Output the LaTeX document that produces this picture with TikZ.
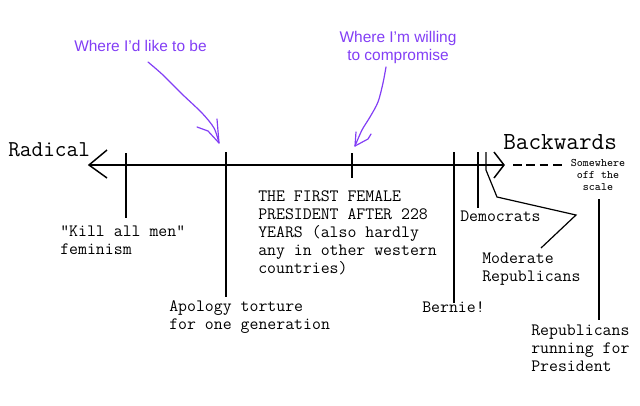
\documentclass[tikz,border=0pt]{standalone}
\usepackage{fontspec}
\setmainfont{Liberation Sans}

\definecolor{pen}{RGB}{130,62,245}

\tikzset{
	tag/.style={font=\ttfamily\fontsize{13}{13.5}\selectfont, align=left, anchor=base west, inner sep=0pt},
	note/.style={font=\fontsize{11.6}{13.5}\selectfont, text=pen, inner sep=0pt},
	scaletick/.style={line width=0.9pt},
	scribble/.style={pen, line width=0.9pt, line cap=round, line join=round}
}

\begin{document}
\begin{tikzpicture}[x=0.75pt, y=-0.75pt]
		\useasboundingbox (0,0) rectangle (640,405);

		\coordinate (left) at (89,165);
		\coordinate (right) at (504,165);

		% draw the scale
		\draw [line width=1.1pt] (left) -- (right);
		\draw [line width=1.1pt] (left) ++(18,-15) -- (left) -- ++(18,13);
		\draw [line width=1.1pt] (right) ++(-10,-13) -- (right) -- ++(-10,13);
		\draw [line width=0.9pt, dash pattern=on 6.5pt off 3.5pt] (right) ++(9,0) -- ++(50,0);

		% ends of the scale
		\node [font=\ttfamily\fontsize{17}{18}\selectfont, anchor=base west, inner sep=0pt] (radical) at (8,156) {Radical};
		\node [font=\ttfamily\fontsize{18.4}{20}\selectfont, anchor=base west, inner sep=0pt] (backwards) at (503,149) {Backwards};
		\node [font=\ttfamily\fontsize{8.6}{9}\selectfont, align=center, anchor=base, inner sep=0pt] (offscale) at (598,190) {Somewhere\\off the\\scale};

		% draw the ticks
		\coordinate (killtick) at (126,153);
		\coordinate (apologytick) at (226,152);
		\coordinate (femaletick) at (352,153);
		\coordinate (bernietick) at (454,152);
		\coordinate (demstick) at (478,152);
		\coordinate (modtick) at (486,152);
		\coordinate (runtick) at (599,199);

		\draw [scaletick] (killtick) -- ++(0,65);
		\draw [scaletick] (apologytick) -- ++(0,145);
		\draw [scaletick] (femaletick) -- ++(0,25);
		\draw [scaletick] (bernietick) -- ++(0,151);
		\draw [scaletick] (demstick) -- ++(0,56);
		\draw [scaletick] (modtick) -- ++(0,18) -- (497,197) -- (576,215) -- (541,248);
		\draw [scaletick] (runtick) -- ++(0,121);

		% labels of the ticks (anchored at the last line)
		\node [tag] (killmen) at (60,254) {"Kill all men"\\feminism};
		\node [tag] (female) at (258,273) {THE FIRST FEMALE\\PRESIDENT AFTER 228\\YEARS (also hardly\\any in other western\\countries)};
		\node [tag] (apology) at (169,329) {Apology torture\\for one generation};
		\node [tag] (bernie) at (422,312) {Bernie!};
		\node [tag] (dems) at (460,221) {Democrats};
		\node [tag] (moderate) at (482,281) {Moderate\\Republicans};
		\node [tag] (running) at (531,371) {Republicans\\running for\\President};

		% the handwritten notes
		\node [note, anchor=base west] (like) at (74,51) {Where I'd like to be};
		\node [note, align=center, anchor=base] (compromise) at (398,60) {Where I'm willing\\to compromise};

		\coordinate (liketip) at (219,143);
		\coordinate (comptip) at (355,146);

		\draw [scribble] plot [smooth] coordinates {(148,62) (163,75) (182,94) (202,113) (214,128) (liketip)};
		\draw [scribble] (197,127) -- (208,131) -- (liketip) -- (217,119);

		\draw [scribble] plot [smooth] coordinates {(386,67) (383,83) (378,102) (370,117) (362,130) (comptip)};
		\draw [scribble] (356,132) -- (comptip) -- (368,139) -- (371,134);
\end{tikzpicture}
\end{document}
